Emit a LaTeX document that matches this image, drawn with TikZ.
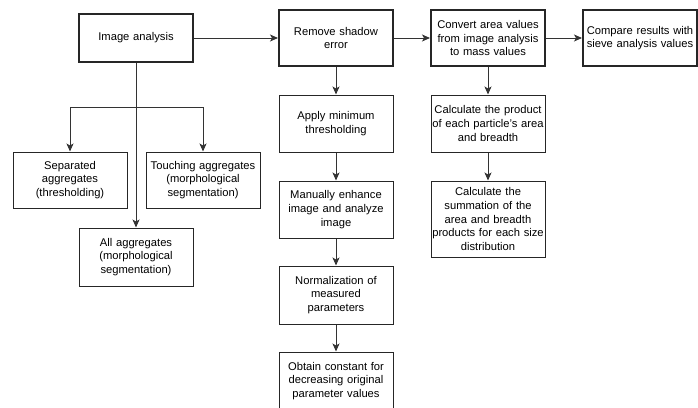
\documentclass[tikz,border=0pt]{standalone}
\usepackage{fontspec}
\setmainfont{Liberation Sans}
\usetikzlibrary{arrows.meta}
\begin{document}
\begin{tikzpicture}[x=1pt,y=-1pt,
  box/.style={draw=black!85,line width=1pt,fill=white,inner sep=1pt,align=center,
    minimum width=114pt,text width=112pt,font=\fontsize{11.2pt}{13.6pt}\selectfont},
  thickbox/.style={box,line width=2pt},
  conn/.style={draw=black!80,line width=1pt},
  arr/.style={conn,-{Stealth[length=8pt,width=7pt,inset=2pt]}}]
\useasboundingbox (0,0) rectangle (698,407);
% top row
\node[thickbox,minimum height=48pt] (ia) at (136,38) {Image analysis};
\node[thickbox,minimum height=56pt] (rs) at (336,38) {Remove shadow\\error};
\node[thickbox,minimum height=56pt] (cv) at (488,38) {Convert area values\\from image analysis\\to mass values};
\node[thickbox,minimum height=56pt] (cp) at (640,38) {Compare results with\\sieve analysis values};
% left branch
\node[box,minimum height=56pt] (sep) at (70,180) {Separated\\aggregates\\(thresholding)};
\node[box,minimum height=56pt] (tou) at (203,180) {Touching aggregates\\(morphological\\segmentation)};
\node[box,minimum height=58pt] (all) at (136,257) {All aggregates\\(morphological\\segmentation)};
% middle column
\node[box,minimum height=57pt] (amt) at (336,123.5) {Apply minimum\\thresholding};
\node[box,minimum height=57pt] (me) at (336,209.5) {Manually enhance\\image and analyze\\image};
\node[box,minimum height=58pt] (norm) at (336,295) {Normalization of\\measured\\parameters};
\node[box,minimum height=58pt] (obt) at (336,381) {Obtain constant for\\decreasing original\\parameter values};
% right column
\node[box,minimum height=57pt] (cprod) at (488,123.5) {Calculate the product\\of each particle{\char"0027}s area\\and breadth};
\node[box,minimum height=76pt] (csum) at (488,219) {Calculate the\\summation of the\\area and breadth\\products for each size\\distribution};
% connectors
\draw[arr] (ia) -- (rs);
\draw[arr] (rs) -- (cv);
\draw[arr] (cv) -- (cp);
\draw[arr] (ia) -- (all);
\coordinate (bl) at (70,107);
\coordinate (br) at (203,107);
\draw[arr] (bl -| sep) -- (sep);
\draw[arr] (br -| tou) -- (tou);
\draw[conn] (bl) -- (br);
\draw[arr] (rs) -- (amt);
\draw[arr] (amt) -- (me);
\draw[arr] (me) -- (norm);
\draw[arr] (norm) -- (obt);
\draw[arr] (cv) -- (cprod);
\draw[arr] (cprod) -- (csum);
\end{tikzpicture}
\end{document}
